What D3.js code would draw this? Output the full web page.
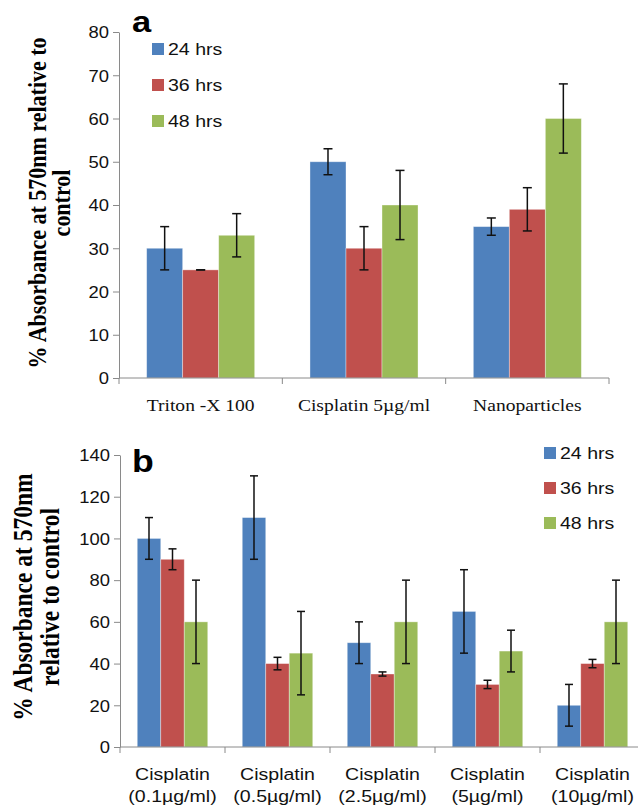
<!DOCTYPE html>
<html>
<head>
<meta charset="utf-8">
<script src="https://cdn.jsdelivr.net/npm/d3@7"></script>
<style>
  html, body { margin: 0; padding: 0; background: #fff; }
</style>
</head>
<body>
<div class="chart"></div>
<script>
// data
var series_names = ["24 hrs", "36 hrs", "48 hrs"],
    series_colors = ["#4F81BD", "#C0504D", "#9BBB59"];

var cats_a = ["Triton -X 100", "Cisplatin 5µg/ml", "Nanoparticles"],
    vals_a = [[30, 50, 35], [25, 30, 39], [33, 40, 60]],
    errs_a = [[5, 3, 2], [0, 5, 5], [5, 8, 8]],
    ticks_a = [0, 10, 20, 30, 40, 50, 60, 70, 80];

var cats_b = [["Cisplatin", "(0.1µg/ml)"], ["Cisplatin", "(0.5µg/ml)"], ["Cisplatin", "(2.5µg/ml)"],
              ["Cisplatin", "(5µg/ml)"], ["Cisplatin", "(10µg/ml)"]],
    vals_b = [[100, 110, 50, 65, 20], [90, 40, 35, 30, 40], [60, 45, 60, 46, 60]],
    errs_b = [[10, 20, 10, 20, 10], [5, 3, 1, 2, 2], [20, 20, 20, 10, 20]],
    ticks_b = [0, 20, 40, 60, 80, 100, 120, 140];

var width = 638, height = 808,
    SX = 1.15,          // the picture is a bit stretched sideways
    sans = "'Liberation Sans', Arial, sans-serif",
    serif = "'Liberation Serif', 'Times New Roman', serif",
    axis_color = "#8a8a8a";

var svg = d3.select(".chart").append("svg")
    .attr("width", width)
    .attr("height", height)
    .style("display", "block");

function place(sel, x, y, rot) {
    sel.attr("transform", "translate(" + x + "," + y + ") scale(" + SX + ",1)" + (rot ? " rotate(" + rot + ")" : ""));
}

function panel(o) {
    var g = svg.append("g");
    var x0 = d3.scaleBand().domain(d3.range(o.cats.length)).range(o.xr).padding(0);
    var x1 = d3.scaleBand().domain(d3.range(series_names.length))
        .range([0, x0.bandwidth()]).paddingInner(0).paddingOuter(o.outer);
    var y = d3.scaleLinear().domain([0, o.ticks[o.ticks.length - 1]]).range(o.yr);

    // bars
    series_names.forEach(function (s, si) {
        g.selectAll(".bar" + si).data(o.vals[si]).enter().append("rect")
            .attr("x", function (d, i) { return x0(i) + x1(si); })
            .attr("y", function (d) { return y(d); })
            .attr("width", x1.bandwidth())
            .attr("height", function (d) { return y(0) - y(d); })
            .attr("fill", series_colors[si])
            .attr("stroke", "rgba(255,255,255,0.45)")
            .attr("stroke-width", 0.8);
    });

    // error bars
    series_names.forEach(function (s, si) {
        o.vals[si].forEach(function (v, i) {
            var cx = x0(i) + x1(si) + x1.bandwidth() / 2,
                e = o.errs[si][i], hw = o.cap / 2;
            var eg = g.append("g").attr("stroke", "#111").attr("stroke-width", 1.5);
            eg.append("line").attr("x1", cx).attr("x2", cx).attr("y1", y(v + e)).attr("y2", y(v - e));
            eg.append("line").attr("x1", cx - hw).attr("x2", cx + hw).attr("y1", y(v + e)).attr("y2", y(v + e));
            eg.append("line").attr("x1", cx - hw).attr("x2", cx + hw).attr("y1", y(v - e)).attr("y2", y(v - e));
        });
    });

    // y axis
    var ya = g.append("g").attr("transform", "translate(" + o.xr[0] + ",0)")
        .call(d3.axisLeft(y).tickValues(o.ticks).tickSize(6).tickSizeOuter(0));
    ya.select(".domain").attr("stroke", axis_color);
    ya.selectAll(".tick line").attr("stroke", axis_color);
    ya.selectAll(".tick text")
        .attr("x", 0).attr("dy", "0.36em")
        .attr("fill", "#111")
        .style("font-family", sans).style("font-size", o.tick_size + "px")
        .each(function () { place(d3.select(this), -10, 0); });

    // x axis with ticks on the category boundaries
    var base = y(0);
    g.append("line").attr("x1", o.xr[0]).attr("x2", o.xr[1]).attr("y1", base).attr("y2", base)
        .attr("stroke", axis_color);
    var bounds = x0.domain().map(function (i) { return x0(i); }).concat([o.xr[1]]);
    g.selectAll(".xtick").data(bounds).enter().append("line")
        .attr("x1", function (d) { return d; }).attr("x2", function (d) { return d; })
        .attr("y1", base).attr("y2", base + 6)
        .attr("stroke", axis_color);

    // category labels
    o.cats.forEach(function (c, i) {
        var lines = Array.isArray(c) ? c : [c];
        lines.forEach(function (ln, li) {
            var t = g.append("text").text(ln)
                .attr("text-anchor", "middle")
                .attr("fill", "#111")
                .style("font-family", o.cat_font).style("font-size", o.cat_size + "px");
            place(t, x0(i) + x0.bandwidth() / 2, o.cat_y + li * o.cat_gap);
        });
    });

    // legend
    series_names.forEach(function (s, si) {
        var ly = o.leg_y + si * o.leg_gap;
        g.append("rect").attr("x", o.leg_x).attr("y", ly - 6).attr("width", 12).attr("height", 12)
            .attr("fill", series_colors[si]);
        var t = g.append("text").text(s).attr("dy", "0.36em").attr("fill", "#111")
            .style("font-family", sans).style("font-size", "17px");
        place(t, o.leg_x + 16, ly);
    });

    // panel letter
    var pl = g.append("text").text(o.letter).attr("fill", "#000")
        .style("font-family", sans).style("font-weight", "bold").style("font-size", o.letter_size + "px");
    place(pl, o.letter_x, o.letter_y);

    // y title
    o.title.forEach(function (ln, li) {
        var t = g.append("text").text(ln).attr("text-anchor", "middle").attr("fill", "#000")
            .style("font-family", serif).style("font-weight", "bold").style("font-size", o.title_size + "px");
        place(t, o.title_x[li], o.title_cy, -90);
    });
}

panel({
    cats: cats_a, vals: vals_a, errs: errs_a, ticks: ticks_a,
    xr: [119, 609], yr: [378, 32], outer: 0.768, cap: 9, tick_size: 16,
    cat_font: serif, cat_size: 17, cat_y: 411, cat_gap: 0,
    leg_x: 152, leg_y: 49, leg_gap: 36,
    letter: "a", letter_x: 132, letter_y: 32, letter_size: 30,
    title: ["% Absorbance at 570nm relative to", "control"],
    title_x: [46, 70], title_cy: 203, title_size: 22
});

panel({
    cats: cats_b, vals: vals_b, errs: errs_b, ticks: ticks_b,
    xr: [120, 645], yr: [747, 455], outer: 0.734, cap: 8, tick_size: 16,
    cat_font: sans, cat_size: 17, cat_y: 780, cat_gap: 22,
    leg_x: 544, leg_y: 453, leg_gap: 35,
    letter: "b", letter_x: 132, letter_y: 472, letter_size: 31,
    title: ["% Absorbance at 570nm", "relative to control"],
    title_x: [32, 59], title_cy: 597, title_size: 23.5
});
</script>
</body>
</html>
